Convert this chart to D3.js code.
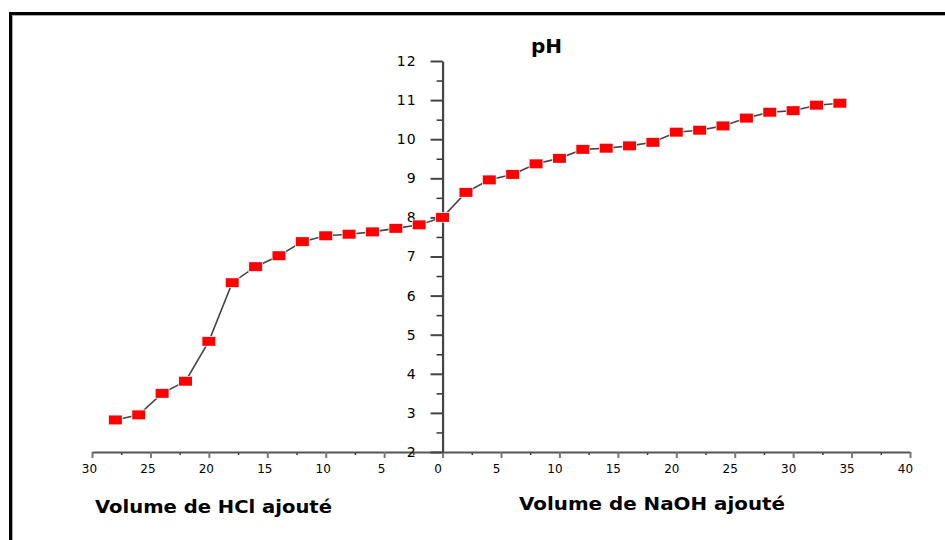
<!DOCTYPE html>
<html>
<head>
<meta charset="utf-8">
<script src="https://cdn.jsdelivr.net/npm/d3@7"></script>
<style>
  html, body { margin: 0; padding: 0; background: #fff; }
  svg { display: block; }
</style>
</head>
<body>
<svg id="chart" width="945" height="540"></svg>
<script>
// Titration data: pH versus added volume (mL) of HCl (left) and NaOH (right)
const hclVolumes  = [2, 4, 6, 8, 10, 12, 14, 16, 18, 20, 22, 24, 26, 28];
const hclPH       = [7.81, 7.72, 7.63, 7.57, 7.53, 7.38, 7.02, 6.74, 6.33, 4.83, 3.81, 3.50, 2.95, 2.82];
const naohVolumes = [0, 2, 4, 6, 8, 10, 12, 14, 16, 18, 20, 22, 24, 26, 28, 30, 32, 34];
const naohPH      = [8.00, 8.64, 8.96, 9.10, 9.37, 9.51, 9.74, 9.77, 9.83, 9.92, 10.18, 10.23, 10.34, 10.54, 10.69, 10.73, 10.87, 10.92];

const xTickValues = [-30, -25, -20, -15, -10, -5, 0, 5, 10, 15, 20, 25, 30, 35, 40];
const yTickValues = [2, 3, 4, 5, 6, 7, 8, 9, 10, 11, 12];

const titleText = "pH";
const hclLabel  = "Volume de HCl ajouté";
const naohLabel = "Volume de NaOH ajouté";

const svg = d3.select("#chart");

// HCl volumes are drawn to the left of the origin (negative side)
const points = hclVolumes.map((v, i) => ({ x: -v, y: hclPH[i] }))
  .reverse()
  .concat(naohVolumes.map((v, i) => ({ x: v, y: naohPH[i] })));

const x = d3.scaleLinear().domain([-30, 40]).range([92, 910]);
const y = d3.scaleLinear().domain([2, 12]).range([452, 61]);

// Frame
svg.append("line").attr("x1", 10.5).attr("y1", 12).attr("x2", 10.5).attr("y2", 540)
  .attr("stroke", "#000").attr("stroke-width", 3);
svg.append("line").attr("x1", 9).attr("y1", 13.5).attr("x2", 945).attr("y2", 13.5)
  .attr("stroke", "#000").attr("stroke-width", 3);
svg.append("line").attr("x1", 12.5).attr("y1", 15.5).attr("x2", 12.5).attr("y2", 540)
  .attr("stroke", "#aaa").attr("stroke-width", 1);
svg.append("line").attr("x1", 12).attr("y1", 15.5).attr("x2", 945).attr("y2", 15.5)
  .attr("stroke", "#aaa").attr("stroke-width", 1);

// X axis (minor ticks every 2.5)
const xMinor = d3.range(-30, 40.01, 2.5).filter(v => v % 5 !== 0);
svg.append("g")
  .attr("transform", `translate(0,${y(2)})`)
  .call(d3.axisBottom(x).tickValues(xMinor).tickSize(3).tickFormat(""))
  .call(g => g.select(".domain").remove())
  .call(g => g.selectAll(".tick line").attr("stroke", "#333").attr("stroke-width", 1.5));

const xAxis = svg.append("g")
  .attr("transform", `translate(0,${y(2)})`)
  .call(d3.axisBottom(x).tickValues(xTickValues).tickSize(6).tickSizeOuter(0)
    .tickPadding(6).tickFormat(d => Math.abs(d)));
xAxis.select(".domain").attr("stroke", "#555").attr("stroke-width", 2);
xAxis.selectAll(".tick line").attr("stroke", "#777").attr("stroke-width", 2);
xAxis.selectAll(".tick text")
  .attr("font-family", "DejaVu Sans, sans-serif").attr("font-size", 12)
  .attr("fill", "#000").attr("dx", d => d < 0 ? -3 : -5);

// Y axis at x = 0 (minor ticks at half units)
const yMinor = d3.range(2.5, 12, 1);
svg.append("g")
  .attr("transform", `translate(${x(0)},0)`)
  .call(d3.axisLeft(y).tickValues(yMinor).tickSize(6).tickFormat(""))
  .call(g => g.select(".domain").remove())
  .call(g => g.selectAll(".tick line").attr("stroke", "#333").attr("stroke-width", 1.5));

const yAxis = svg.append("g")
  .attr("transform", `translate(${x(0)},0)`)
  .call(d3.axisLeft(y).tickValues(yTickValues).tickSize(12).tickSizeOuter(0).tickPadding(14));
yAxis.select(".domain").attr("stroke", "#444").attr("stroke-width", 2.2);
yAxis.selectAll(".tick line").attr("stroke", "#444").attr("stroke-width", 2);
yAxis.selectAll(".tick text")
  .attr("font-family", "DejaVu Sans, sans-serif").attr("font-size", 14)
  .attr("letter-spacing", 1).attr("fill", "#000");

// Titration curve
const line = d3.line().x(d => x(d.x)).y(d => y(d.y));
svg.append("path")
  .datum(points)
  .attr("d", line)
  .attr("fill", "none")
  .attr("stroke", "#444")
  .attr("stroke-width", 1.6);

// Square markers with a thin white halo
const mw = 13, mh = 9;
svg.append("g").selectAll("rect")
  .data(points)
  .join("rect")
  .attr("x", d => x(d.x) - mw / 2)
  .attr("y", d => y(d.y) - mh / 2)
  .attr("width", mw)
  .attr("height", mh)
  .attr("fill", "#ff0000")
  .attr("stroke", "#fff")
  .attr("stroke-width", 1.5)
  .attr("paint-order", "stroke");

// Titles
svg.append("text")
  .attr("x", 531).attr("y", 53)
  .attr("font-family", "DejaVu Sans, sans-serif").attr("font-weight", "bold")
  .attr("font-size", 20).attr("fill", "#000")
  .text(titleText);

svg.append("text")
  .attr("x", 95).attr("y", 513)
  .attr("font-family", "DejaVu Sans, sans-serif").attr("font-weight", "bold")
  .attr("font-size", 17).attr("fill", "#000")
  .attr("textLength", 237).attr("lengthAdjust", "spacingAndGlyphs")
  .text(hclLabel);

svg.append("text")
  .attr("x", 519).attr("y", 510)
  .attr("font-family", "DejaVu Sans, sans-serif").attr("font-weight", "bold")
  .attr("font-size", 17).attr("fill", "#000")
  .attr("textLength", 266).attr("lengthAdjust", "spacingAndGlyphs")
  .text(naohLabel);
</script>
</body>
</html>
